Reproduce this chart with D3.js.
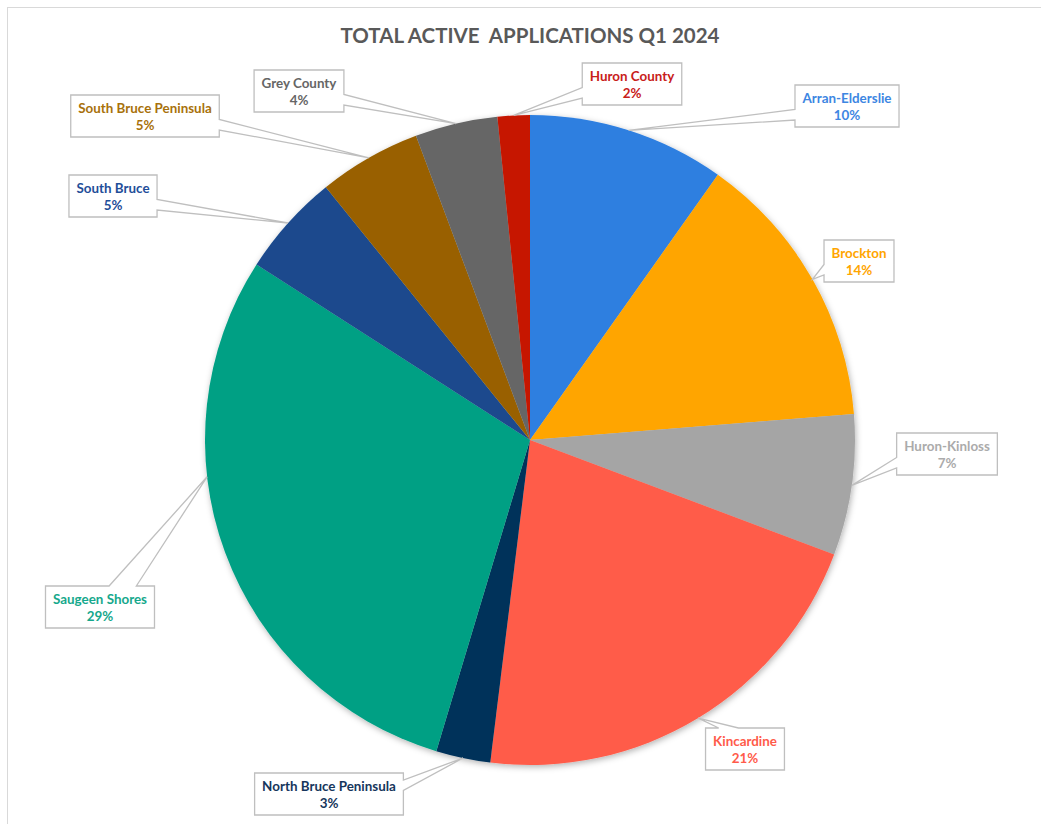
<!DOCTYPE html>
<html>
<head>
<meta charset="utf-8">
<script src="https://cdn.jsdelivr.net/npm/d3@7"></script>
<style>
  body { margin: 0; background: #fff; }
  svg { display: block; }
  text { font-family: Lato, "Open Sans", sans-serif; }
</style>
</head>
<body>
<div id="chart"></div>
<script>
const categories = ["Arran-Elderslie", "Brockton", "Huron-Kinloss", "Kincardine", "North Bruce Peninsula",
  "Saugeen Shores", "South Bruce", "South Bruce Peninsula", "Grey County", "Huron County"];
const shares = [9.8, 13.9, 7.0, 21.2, 2.7, 29.4, 5.1, 5.1, 4.1, 1.6];
const sliceColors = ["#2E7FE0", "#FFA500", "#A5A5A5", "#FF5B4A", "#00325A",
  "#00A084", "#1A4A8D", "#996100", "#666666", "#C61400"];
const labelColors = ["#3D86E2", "#FFA500", "#ABABAB", "#FF5B4A", "#16365C",
  "#16A88C", "#1F4E99", "#A8710B", "#666666", "#C8201A"];

// callout box centres and where along the slice the pointer lands (0.5 = middle)
const labelPos = [
  [847, 106, 0.5], [859, 261, 0.5], [947, 454, 0.5], [745, 749, 0.5], [329, 794, 0.5],
  [100, 607, 0.63], [113, 196, 0.5], [145, 116, 0.5], [299, 91, 0.5], [632, 84, 0.5]
];

const width = 1041, height = 824;
const cx = 530, cy = 440, radius = 325;

const data = categories.map((c, i) => ({ name: c, value: shares[i], color: sliceColors[i], labelColor: labelColors[i], pos: labelPos[i] }));
const total = d3.sum(shares);

const svg = d3.select("#chart").append("svg")
  .attr("width", width)
  .attr("height", height);

const defs = svg.append("defs");
const shadow = defs.append("filter").attr("id", "shadow")
  .attr("x", "-10%").attr("y", "-10%").attr("width", "120%").attr("height", "120%");
shadow.append("feDropShadow")
  .attr("dx", 1).attr("dy", 2).attr("stdDeviation", 3)
  .attr("flood-color", "#000").attr("flood-opacity", 0.3);

// chart area border
svg.append("rect")
  .attr("x", 7.5).attr("y", 7.5)
  .attr("width", width + 20).attr("height", height + 20)
  .attr("fill", "none").attr("stroke", "#D9D9D9");

svg.append("text")
  .attr("x", cx).attr("y", 43)
  .attr("text-anchor", "middle")
  .attr("font-size", 20.5).attr("font-weight", 700)
  .attr("fill", "#595959")
  .style("white-space", "pre")
  .text("TOTAL ACTIVE  APPLICATIONS Q1 2024");

const pie = d3.pie().sort(null).value((d) => d.value);
const arcs = pie(data);
const arc = d3.arc().innerRadius(0).outerRadius(radius);

const g = svg.append("g").attr("transform", `translate(${cx},${cy})`);
g.append("g").attr("filter", "url(#shadow)")
  .selectAll("path")
  .data(arcs)
  .enter()
  .append("path")
  .attr("d", arc)
  .attr("fill", (d) => d.data.color);

const pct = (v) => Math.round((v / total) * 100) + "%";

function calloutPath(x0, y0, w, h, ax, ay) {
  const x1 = x0 + w, y1 = y0 + h;
  const dx = (ax - (x0 + w / 2)) / w, dy = (ay - (y0 + h / 2)) / h;
  let side;
  if (Math.abs(dx) > Math.abs(dy)) side = dx < 0 ? "left" : "right";
  else side = dy < 0 ? "top" : "bottom";
  const along = side === "top" || side === "bottom" ? dx : dy;
  const f = along < 0 ? [2 / 12, 5 / 12] : [7 / 12, 10 / 12];
  const p = d3.path();
  p.moveTo(x0, y0);
  if (side === "top") { p.lineTo(x0 + w * f[0], y0); p.lineTo(ax, ay); p.lineTo(x0 + w * f[1], y0); }
  p.lineTo(x1, y0);
  if (side === "right") { p.lineTo(x1, y0 + h * f[0]); p.lineTo(ax, ay); p.lineTo(x1, y0 + h * f[1]); }
  p.lineTo(x1, y1);
  if (side === "bottom") { p.lineTo(x0 + w * f[1], y1); p.lineTo(ax, ay); p.lineTo(x0 + w * f[0], y1); }
  p.lineTo(x0, y1);
  if (side === "left") { p.lineTo(x0, y0 + h * f[1]); p.lineTo(ax, ay); p.lineTo(x0, y0 + h * f[0]); }
  p.closePath();
  return p.toString();
}

const labels = svg.append("g").selectAll("g")
  .data(arcs)
  .enter()
  .append("g");

labels.each(function (d) {
  const el = d3.select(this);
  const [bx, by, t] = d.data.pos;
  const a = d.startAngle + (d.endAngle - d.startAngle) * t;
  const ax = cx + radius * Math.sin(a), ay = cy - radius * Math.cos(a);

  const box = el.append("path");
  const t1 = el.append("text")
    .attr("x", bx).attr("y", by - 3)
    .attr("text-anchor", "middle")
    .attr("font-size", 13.4).attr("font-weight", 700)
    .attr("fill", d.data.labelColor)
    .text(d.data.name);
  el.append("text")
    .attr("x", bx).attr("y", by + 14)
    .attr("text-anchor", "middle")
    .attr("font-size", 13.4).attr("font-weight", 700)
    .attr("fill", d.data.labelColor)
    .text(pct(d.data.value));

  const w = t1.node().getComputedTextLength() + 15, h = 42;
  box.attr("d", calloutPath(bx - w / 2, by - h / 2, w, h, ax, ay))
    .attr("fill", "#fff")
    .attr("stroke", "#BFBFBF")
    .attr("stroke-width", 1.3);
});
</script>
</body>
</html>
